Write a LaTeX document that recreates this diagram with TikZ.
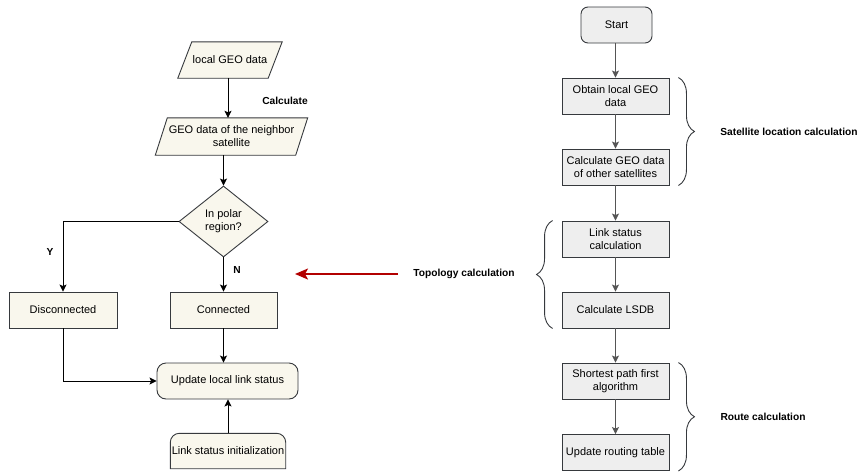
\documentclass[tikz,border=0pt]{standalone}
\usepackage{fontspec}
\setmainfont{Liberation Sans}
\usetikzlibrary{arrows.meta,shapes.geometric,decorations.pathreplacing,calc}
\definecolor{beige}{HTML}{F9F7ED}
\definecolor{edgec}{HTML}{36393D}
\definecolor{greyfill}{HTML}{EEEEEE}
\definecolor{flowgrey}{HTML}{555555}
\definecolor{darkred}{HTML}{B20000}
\begin{document}
\begin{tikzpicture}[x=1pt,y=-1pt,
  font=\fontsize{11}{13}\selectfont,
  box/.style={draw=edgec, line width=0.9pt, align=center, inner sep=1pt,
    minimum height=36pt},
  lbox/.style={box, fill=beige},
  rbox/.style={box, fill=greyfill, minimum width=107pt},
  plain/.style={align=center, inner sep=1pt},
  lbl/.style={font=\fontsize{10.2}{12}\selectfont\bfseries, inner sep=1pt},
  arr/.style={line width=0.9pt, -{Stealth[length=7pt,width=7pt,inset=1.5pt]}},
  garr/.style={arr, draw=flowgrey},
  redarr/.style={line width=2pt, draw=darkred,
    -{Stealth[length=13pt,width=11pt,inset=3pt]}},
  bracket/.style={draw=edgec, line width=0.9pt,
    decorate, decoration={brace, amplitude=16pt}}
]
\useasboundingbox (0,0) rectangle (861,471);

% ---------- left flow: link status update ----------
\node[plain, minimum width=90pt, minimum height=36pt] (local) at (230,60) {};
\draw[draw=edgec, fill=beige, line width=0.9pt]
  ($(local.north west)+(7,0)$) -- ($(local.north east)+(7,0)$) --
  ($(local.south east)+(-7,0)$) -- ($(local.south west)+(-7,0)$) -- cycle;
\node[plain] at (local) {local GEO data};

\node[plain, minimum width=140pt, minimum height=37pt] (neigh) at (231.5,136.5) {};
\draw[draw=edgec, fill=beige, line width=0.9pt]
  ($(neigh.north west)+(6,0)$) -- ($(neigh.north east)+(6,0)$) --
  ($(neigh.south east)+(-6,0)$) -- ($(neigh.south west)+(-6,0)$) -- cycle;
\node[plain] at (neigh) {GEO data of the neighbor\\satellite};

\node[draw=edgec, fill=beige, line width=0.9pt, shape=diamond, aspect=1.25,
  inner sep=0pt, minimum width=89pt, minimum height=71pt, align=center]
  (polar) at (223.5,221.5) {In polar\\region?};

\node[lbox, minimum width=108pt] (disc) at (63,310) {Disconnected};
\node[lbox, minimum width=107pt] (conn) at (223.5,310) {Connected};
\node[lbox, minimum width=141pt, rounded corners=9pt] (upd) at (227.5,381) {Update local link status};

\node[plain, minimum width=115pt, minimum height=35pt] (init) at (228,451) {};
\draw[draw=edgec, fill=beige, line width=0.9pt]
  (init.south west) {[rounded corners=9pt] -- (init.north west) -- (init.north east)}
  -- (init.south east) -- cycle;
\node[plain] at (init) {Link status initialization};

\draw[arr] (local.south -| 228,0) -- (neigh.north -| 228,0);
\draw[arr] (neigh.south -| polar.north) -- (polar.north);
\draw[arr] (polar.west) -| (disc.north);
\draw[arr] (polar.south) -- (conn.north);
\draw[arr] (conn.south) -- (conn.south |- upd.north);
\draw[arr] (disc.south) |- (upd.west);
\draw[arr] (init.north) -- (init.north |- upd.south);

\node[lbl] (calc) at (285,101) {Calculate};
\node[lbl] (ylab) at (50,252) {Y};
\node[lbl] (nlab) at (237,270) {N};

% ---------- right flow: routing procedure ----------
\node[box, fill=greyfill, minimum width=71pt, rounded corners=7pt] (start) at (616.5,25) {Start};
\node[rbox] (obtain) at (615.5,96) {Obtain local GEO\\data};
\node[rbox] (calcgeo) at (615.5,167) {Calculate GEO data\\of other satellites};
\node[rbox] (linkcalc) at (615.5,239) {Link status\\calculation};
\node[rbox] (lsdb) at (615.5,310) {Calculate LSDB};
\node[rbox] (spf) at (615.5,381) {Shortest path first\\algorithm};
\node[rbox] (rtable) at (615.5,452.5) {Update routing table};

\draw[garr] (start.south -| obtain.north) -- (obtain.north);
\draw[garr] (obtain) -- (calcgeo);
\draw[garr] (calcgeo) -- (linkcalc);
\draw[garr] (linkcalc) -- (lsdb);
\draw[garr] (lsdb) -- (spf);
\draw[garr] (spf) -- (rtable);

% phase brackets and their captions
\draw[bracket] ($(obtain.north east)+(9,0)$) -- ($(calcgeo.south east)+(9,0)$);
\node[lbl] (satloc) at (789,132) {Satellite location calculation};

\draw[bracket] ($(lsdb.south west)+(-9,0)$) -- ($(linkcalc.north west)+(-9,0)$);
\node[lbl] (topo) at (464,274) {Topology calculation};

\draw[bracket] ($(spf.north east)+(9,0)$) -- ($(rtable.south east)+(9,0)$);
\node[lbl] (routecalc) at (763,417) {Route calculation};

% pointer from the topology phase to the left flow
\coordinate (redtip) at (295,274);
\draw[redarr] ([xshift=-14pt]topo.west) -- (redtip);
\end{tikzpicture}
\end{document}
